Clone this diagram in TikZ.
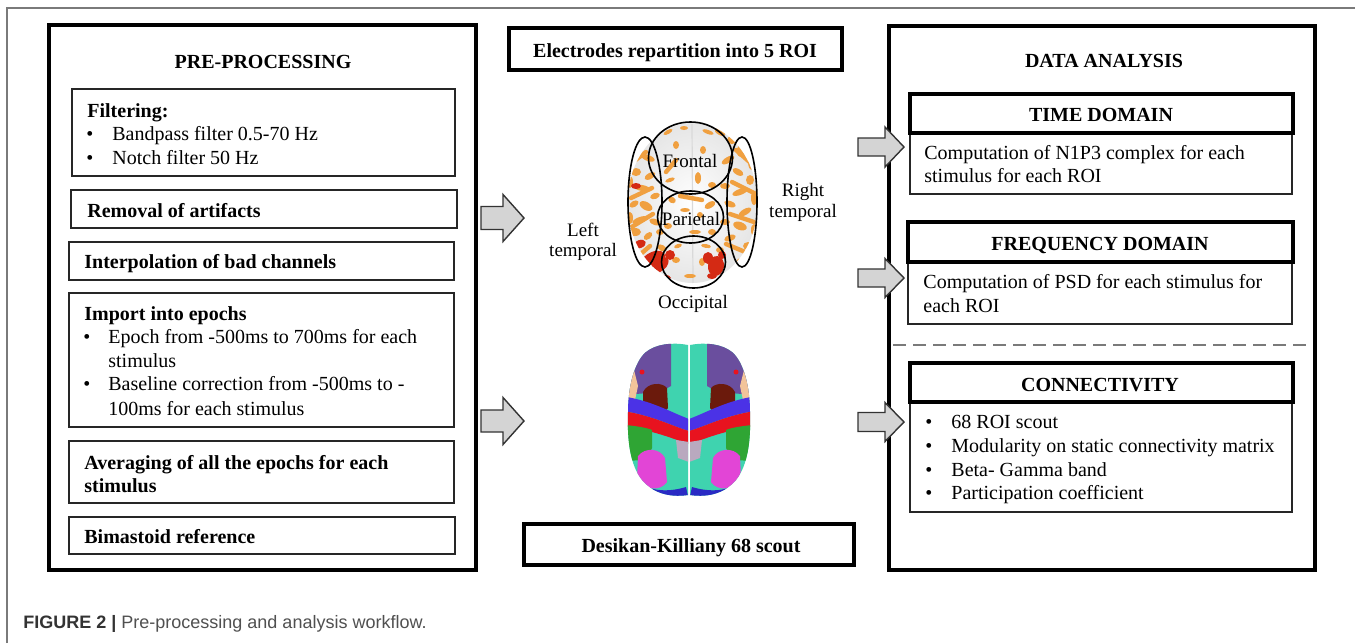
\documentclass[tikz,border=0pt]{standalone}
\usepackage{fontspec}
\setmainfont{Liberation Serif}
\newfontfamily\capfont{Liberation Sans}
\usetikzlibrary{fit}
\definecolor{arrowgray}{HTML}{D4D4D4}
\definecolor{framegray}{HTML}{7A7A7A}
\definecolor{capdark}{HTML}{333333}
\definecolor{capgray}{HTML}{505050}
\definecolor{orangeb}{HTML}{F0A040}
\definecolor{redb}{HTML}{D42A14}
\definecolor{dkteal}{HTML}{3FD3AF}
\definecolor{purp}{HTML}{6A4E9E}
\definecolor{peach}{HTML}{F2C49A}
\definecolor{brownr}{HTML}{6B1A0C}
\definecolor{bandblue}{HTML}{4B32E6}
\definecolor{bandred}{HTML}{E8131F}
\definecolor{greenr}{HTML}{2FA534}
\definecolor{magr}{HTML}{E245D6}
\definecolor{dblue}{HTML}{2A2AC4}
\definecolor{graypurp}{HTML}{B9A9BF}
\newcommand\myBlockArrow[6]{%
  \draw[blockarr] (#1,#2-#5) -- (#3,#2-#5) -- (#3,#2-#6) -- (#4,#2) -- (#3,#2+#6) -- (#3,#2+#5) -- (#1,#2+#5) -- cycle;}
\newcommand\myLeftHemi{(688,345) .. controls (672,342) and (656,344) .. (646,352) .. controls (634,362) and (628,388) .. (628,412) .. controls (627,440) and (630,465) .. (642,480) .. controls (652,492) and (668,498) .. (688,495) -- cycle}
\newcommand\myHemiRegions{%
  \fill[dkteal] (600,330) rectangle (700,510);
  \fill[purp] (600,335) -- (671,335) -- (671,386) -- (662,391) -- (648,393) -- (600,397) -- cycle;
  \fill[peach] (600,368) -- (634,370) -- (638,386) -- (635,400) -- (600,402) -- cycle;
  \fill[bandred] (642,372) circle [radius=2.5];
  \fill[brownr] (643,392) .. controls (648,382) and (662,382) .. (667,388) -- (668,408) .. controls (662,416) and (650,414) .. (643,408) -- cycle;
  \fill[bandblue] (600,394) .. controls (645,396) and (665,410) .. (689,419) -- (689,431) .. controls (668,425) and (648,412) .. (600,408) -- cycle;
  \fill[bandred] (600,408) .. controls (648,412) and (668,425) .. (689,431) -- (689,444) .. controls (670,438) and (650,428) .. (600,423) -- cycle;
  \fill[greenr] (600,423) .. controls (635,425) and (648,428) .. (652,430) -- (652,448) -- (646,460) -- (600,462) -- cycle;
  \fill[magr] (638,456) .. controls (645,447) and (660,448) .. (665,458) -- (667,482) .. controls (660,492) and (645,490) .. (637,478) -- cycle;
  \fill[dblue] (600,480) -- (640,482) .. controls (650,492) and (670,492) .. (686,487) -- (690,505) -- (600,505) -- cycle;
  \fill[graypurp] (676,440) -- (689,442) -- (689,462) -- (678,458) -- cycle;
}
\begin{document}
\begin{tikzpicture}[x=0.5pt,y=-0.5pt,
  thinbox/.style={draw=black!85, line width=0.75pt, inner sep=0pt},
  thickbox/.style={draw=black, line width=1.75pt, inner sep=0pt},
  outerbox/.style={draw=black, line width=2pt, inner sep=0pt},
  txt/.style={anchor=base west, inner sep=0pt, font=\fontsize{10}{12}\selectfont},
  btxt/.style={anchor=base west, inner sep=0pt, font=\fontsize{10}{12}\selectfont\bfseries},
  ctitle/.style={anchor=base, inner sep=0pt, font=\fontsize{10}{12}\selectfont\bfseries},
  lbl/.style={anchor=base, inner sep=0pt, font=\fontsize{9.5}{10.5}\selectfont},
  blockarr/.style={fill=arrowgray, draw=black!80, line width=0.7pt, line join=miter},
  roi/.style={draw=black, line width=0.8pt},
  streak/.style={draw=orangeb, line width=2.2pt, line cap=round}]
\useasboundingbox (0,0) rectangle (1355,643);
\fill[white] (0,0) rectangle (1355,643);
% page frame
\draw[framegray, line width=0.75pt] (7,643) -- (7,8) -- (1355,8);
% ---------------- left column ----------------
\node[outerbox, fit={(49,25)(476,570)}] (pre) {};
\node[ctitle] (pretitle) at (263,68) {PRE-PROCESSING};
\node[thinbox, fit={(72,89)(455,176)}] (filt) {};
\node[btxt] (filt0) at (87,117) {Filtering:};
\node[txt] (filtb1) at (86,140) {•};
\node[txt] (filt1) at (112,140) {Bandpass filter 0.5-70 Hz};
\node[txt] (filtb2) at (86,164) {•};
\node[txt] (filt2) at (112,164) {Notch filter 50 Hz};
\node[thinbox, fit={(71,190)(457,228)}] (remov) {};
\node[btxt] (remov0) at (87,217) {Removal of artifacts};
\node[thinbox, fit={(69,242)(454,280)}] (interp) {};
\node[btxt] (interp0) at (84,268) {Interpolation of bad channels};
\node[thinbox, fit={(69,293)(454,427)}] (epochs) {};
\node[btxt] (ep0) at (84,320) {Import into epochs};
\node[txt] (epb1) at (83,343) {•};
\node[txt] (ep1) at (108,343) {Epoch from -500ms to 700ms for each};
\node[txt] (ep2) at (108,367) {stimulus};
\node[txt] (epb2) at (83,390) {•};
\node[txt] (ep3) at (108,390) {Baseline correction from -500ms to -};
\node[txt] (ep4) at (108,415) {100ms for each stimulus};
\node[thinbox, fit={(69,441)(454,503)}] (avg) {};
\node[btxt] (avg0) at (84,469) {Averaging of all the epochs for each};
\node[btxt] (avg1) at (84,492) {stimulus};
\node[thinbox, fit={(69,517)(455,554)}] (bima) {};
\node[btxt] (bima0) at (84,543) {Bimastoid reference};
% ---------------- middle column ----------------
\node[thickbox, fit={(509,28)(842,70)}] (elec) {};
\node[ctitle] (elect) at (675,57) {Electrodes repartition into 5 ROI};
% brain 1
\begin{scope}
  \shade[inner color=white, outer color=black!10] (692.5,203) ellipse [x radius=65, y radius=80];
  \clip (692.5,203) ellipse [x radius=65, y radius=80];
  \draw[black!15, line width=0.6pt] (692,124) -- (693,283);
  \fill[redb, rotate around={35:(652,262)}] (652,262) ellipse [x radius=15, y radius=9];
  \fill[redb, rotate around={-10:(716,266)}] (716,266) ellipse [x radius=8, y radius=10];
  \foreach \px/\py/\ra/\rb/\rr in {632/150/4/8/20,640/140/6/3/40,648/158/7/3/-20,636/172/5/4/0,650/176/6/3/30,630/182/3/6/0,642/188/8/3/-10,655/196/5/3/20,634/204/5/3/30,646/206/7/4/-30,630/218/3/6/0,640/220/8/3/20,655/222/6/3/-20,635/232/6/4/0,648/236/5/3/40,660/232/4/3/0,632/246/4/5/0,662/248/5/3/-30,640/270/6/4/20,
  720/132/6/3/-30,732/140/5/4/0,742/150/5/7/-20,752/162/4/8/0,728/160/7/3/30,738/172/6/3/-30,750/180/4/5/0,725/186/5/3/0,740/192/8/3/20,754/198/3/7/0,730/204/6/3/-20,745/212/7/3/30,725/222/5/3/0,740/226/7/4/-20,754/230/3/6/0,730/238/6/3/20,748/246/5/4/0,720/250/4/3/0,742/262/6/4/0,735/276/5/3/0,
  668/132/5/2/30,684/128/4/2/0,708/132/6/2/-20,676/145/3/4/0,703/150/3/4/0,670/180/5/2/20,698/178/3/6/0,712/185/4/3/0,672/200/4/3/-30,710/205/6/3/30,685/210/5/2/0,700/215/3/3/0,668/226/4/3/0,695/232/6/2/0,712/232/4/3/0,678/246/4/2/20,706/246/5/2/-10,676/260/4/3/0,702/262/3/4/0,690/276/6/2/0}
    \fill[orangeb, rotate around={\rr:(\px,\py)}] (\px,\py) ellipse [x radius=\ra, y radius=\rb];
  \draw[streak] (629,165) -- (646,152);
  \draw[streak] (631,198) -- (652,188);
  \draw[streak] (630,228) -- (653,214);
  \draw[streak] (636,258) -- (650,246);
  \draw[streak] (736,150) -- (754,166);
  \draw[streak] (732,182) -- (756,194);
  \draw[streak] (730,214) -- (754,222);
  \draw[streak] (726,244) -- (750,254);
  \draw[streak] (680,196) -- (702,200);
  \draw[streak] (666,172) -- (676,160);
  \foreach \px/\py/\ra/\rb/\rr in {636/186/5/3/0,640/244/6/4/20,660/265/10/6/40,648/270/8/4/10,670/255/5/5/0,665/278/6/3/0,708/258/5/6/0,722/255/4/4/0,712/276/5/3/0}
    \fill[redb, rotate around={\rr:(\px,\py)}] (\px,\py) ellipse [x radius=\ra, y radius=\rb];
\end{scope}
\draw[roi] (690.5,158) ellipse [x radius=42, y radius=36];
\draw[roi] (690.5,217) ellipse [x radius=33, y radius=26];
\draw[roi] (693.5,262) ellipse [x radius=32, y radius=26];
\draw[roi] (645,202) ellipse [x radius=17, y radius=65];
\draw[roi] (742,202) ellipse [x radius=15, y radius=65];
\node[lbl] (frontal) at (690,167) {Frontal};
\node[lbl] (parietal) at (691,225) {Parietal};
\node[lbl] (occip) at (693,308) {Occipital};
\node[lbl] (ltemp1) at (583,236) {Left};
\node[lbl] (ltemp2) at (583,256) {temporal};
\node[lbl] (rtemp1) at (803,196) {Right};
\node[lbl] (rtemp2) at (803,217) {temporal};
% brain 2
\begin{scope}
  \clip \myLeftHemi;
  \myHemiRegions
\end{scope}
\begin{scope}[x=-0.5pt, xshift=689pt]
  \begin{scope}
    \clip \myLeftHemi;
    \myHemiRegions
  \end{scope}
\end{scope}
\node[thickbox, fit={(524,524)(854,565)}] (desik) {};
\node[ctitle] (desikt) at (691,552) {Desikan-Killiany 68 scout};
% left arrows
\myBlockArrow{481}{218}{503}{524}{11.5}{23.5}
\myBlockArrow{481}{421}{503}{524}{11}{23.5}
% ---------------- right column ----------------
\node[outerbox, fit={(889,26)(1315,570)}] (ana) {};
\node[ctitle] (anat) at (1104,67) {DATA ANALYSIS};
\node[thinbox, fit={(910,133)(1292,194)}] (timeb) {};
\node[thickbox, fit={(910,94)(1293,133)}] (timeh) {};
\node[ctitle] (timet) at (1101,121) {TIME DOMAIN};
\node[txt] (time1) at (924,159) {Computation of N1P3 complex for each};
\node[txt] (time2) at (924,182) {stimulus for each ROI};
\node[thinbox, fit={(908,262)(1292,324)}] (freqb) {};
\node[thickbox, fit={(908,222)(1293,262)}] (freqh) {};
\node[ctitle] (freqt) at (1100,250) {FREQUENCY DOMAIN};
\node[txt] (freq1) at (923,288) {Computation of PSD for each stimulus for};
\node[txt] (freq2) at (923,312) {each ROI};
\draw[framegray, line width=0.75pt, dash pattern=on 6.5pt off 3.5pt] (893,345) -- (1313,345);
\node[thinbox, fit={(910,402)(1292,512)}] (connb) {};
\node[thickbox, fit={(910,363)(1293,402)}] (connh) {};
\node[ctitle] (connt) at (1100,391) {CONNECTIVITY};
\node[txt] (cb1) at (925,428) {•};
\node[txt] (c1) at (951,428) {68 ROI scout};
\node[txt] (cb2) at (925,452) {•};
\node[txt] (c2) at (951,452) {Modularity on static connectivity matrix};
\node[txt] (cb3) at (925,476) {•};
\node[txt] (c3) at (951,476) {Beta- Gamma band};
\node[txt] (cb4) at (925,499) {•};
\node[txt] (c4) at (951,499) {Participation coefficient};
% right arrows
\myBlockArrow{858}{147}{885}{904}{9}{20}
\myBlockArrow{858}{278}{885}{904}{9}{19.5}
\myBlockArrow{858}{422}{885}{904}{9.5}{19.5}
% caption
\node[anchor=base west, inner sep=0pt, font=\capfont\fontsize{9}{11}\selectfont] (cap) at (23,628) {\textcolor{capdark}{\bfseries FIGURE 2 |} \textcolor{capgray}{Pre-processing and analysis workflow.}};
\end{tikzpicture}
\end{document}
